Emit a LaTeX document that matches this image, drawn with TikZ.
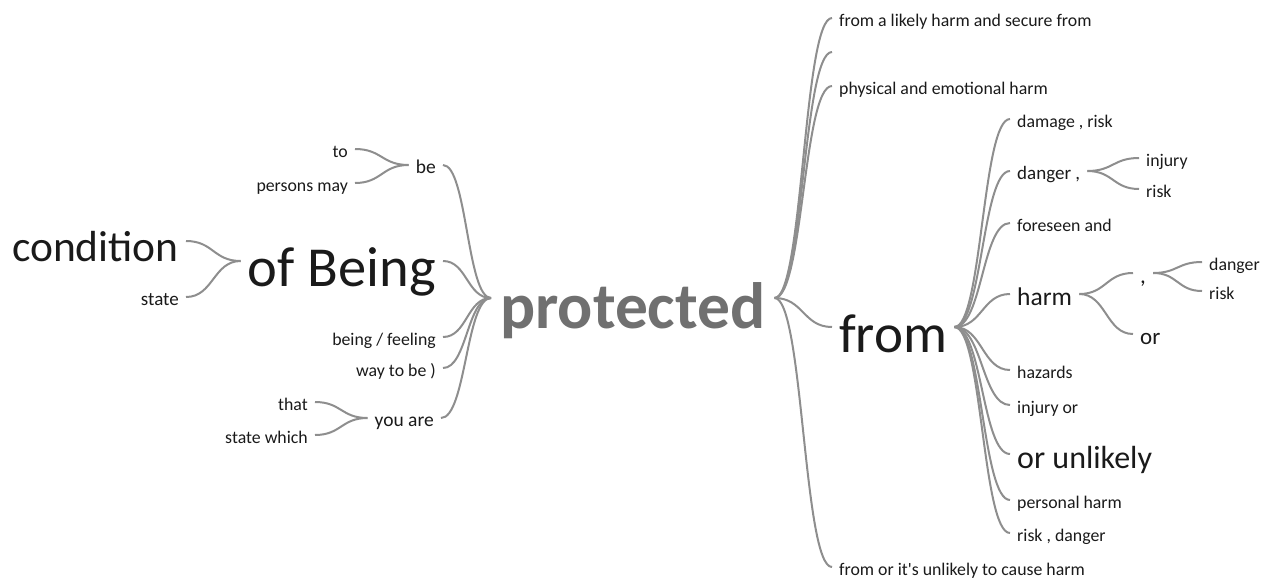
\documentclass[tikz,border=0pt]{standalone}
\usepackage{fontspec}
\setmainfont{Carlito}
\usetikzlibrary{calc}

\definecolor{twiggray}{HTML}{8E8E8E}
\definecolor{rootgray}{HTML}{707070}
\definecolor{wordblack}{HTML}{1A1A1A}

\tikzset{
  word/.style={inner xsep=7pt, inner ysep=0pt, text depth=0pt, text=wordblack,
    font=\fontsize{#1}{#1}\selectfont, text height={0.92*#1}},
  word/.default=17.8,
  root/.style={word=65.5, inner xsep=9pt, text=rootgray, font=\fontsize{65.5}{65.5}\selectfont\bfseries},
  twig/.style={draw=twiggray, line width=2pt},
}
% curved branch, flat at both ends
\newcommand{\twig}[2]{%
  \draw[twig] let \p1=(#1), \p2=(#2), \n1={(\x2-\x1)/2} in
    (\p1) .. controls +(\n1,0) and +(-\n1,0) .. (\p2);}

\begin{document}
\begin{tikzpicture}[x=1pt, y=-1pt]
    \useasboundingbox (0,0) rectangle (1265,581);
    % root
    \node[root, anchor=west] (protected) at (491,298) {protected};
    % left side
    \node[word=43.5, anchor=east] (condition) at (186,241) {condition};
    \node[word=19, anchor=east] (state) at (186,297) {state};
    \node[word=56.5, anchor=east] (ofbeing) at (443,261) {of Being};
    \node[word, anchor=east] (to) at (355,149) {to};
    \node[word, anchor=east] (persons) at (355,183) {persons may};
    \node[word=19.5, anchor=east] (be) at (443,165) {be};
    \node[word, anchor=east] (being) at (443,337) {being / feeling};
    \node[word, anchor=east] (way) at (443,368) {way to be )};
    \node[word, anchor=east] (that) at (315,402) {that};
    \node[word, anchor=east] (statewhich) at (315,435) {state which};
    \node[word=19.5, anchor=east] (youare) at (441,418) {you are};
    % right side
    \node[word, anchor=west] (likely) at (832,18) {from a likely harm and secure from};
    \coordinate (blank) at (832,52);
    \node[word, anchor=west] (physical) at (832,86) {physical and emotional harm};
    \node[word=55, anchor=west] (from) at (832,327) {from};
    \node[word, anchor=west] (cause) at (832,567) {from or it\textquotesingle s unlikely to cause harm};
    \node[word, anchor=west] (damage) at (1010,119) {damage , risk};
    \node[word=19, anchor=west] (dangerc) at (1010,171) {danger ,};
    \node[word, anchor=west] (foreseen) at (1010,223) {foreseen and};
    \node[word=25.5, anchor=west] (harm) at (1010,294) {harm};
    \node[word, anchor=west] (hazards) at (1010,370) {hazards};
    \node[word, anchor=west] (injuryor) at (1010,405) {injury or};
    \node[word=32, anchor=west] (unlikely) at (1010,454) {or unlikely};
    \node[word, anchor=west] (personal) at (1010,500) {personal harm};
    \node[word, anchor=west] (riskdanger) at (1010,533) {risk , danger};
    \node[word, anchor=west] (injury) at (1139,158) {injury};
    \node[word, anchor=west] (riska) at (1139,189) {risk};
    \node[word=23, anchor=west] (comma) at (1133,273) {,};
    \node[word=23, anchor=west] (or) at (1133,334) {or};
    \node[word, anchor=west] (dangerb) at (1202,262) {danger};
    \node[word, anchor=west] (riskb) at (1202,291) {risk};
    % branches
    \twig{condition.east}{ofbeing.west}
    \twig{state.east}{ofbeing.west}
    \twig{to.east}{be.west}
    \twig{persons.east}{be.west}
    \twig{that.east}{youare.west}
    \twig{statewhich.east}{youare.west}
    \foreach \w in {be,ofbeing,being,way,youare}
        \twig{\w.east}{protected.west};
    \foreach \w in {likely.west,blank,physical.west,from.west,cause.west}
        \twig{protected.east}{\w};
    \foreach \w in {damage,dangerc,foreseen,harm,hazards,injuryor,unlikely,personal,riskdanger}
        \twig{from.east}{\w.west};
    \twig{dangerc.east}{injury.west}
    \twig{dangerc.east}{riska.west}
    \twig{harm.east}{comma.west}
    \twig{harm.east}{or.west}
    \twig{comma.east}{dangerb.west}
    \twig{comma.east}{riskb.west}
\end{tikzpicture}
\end{document}
